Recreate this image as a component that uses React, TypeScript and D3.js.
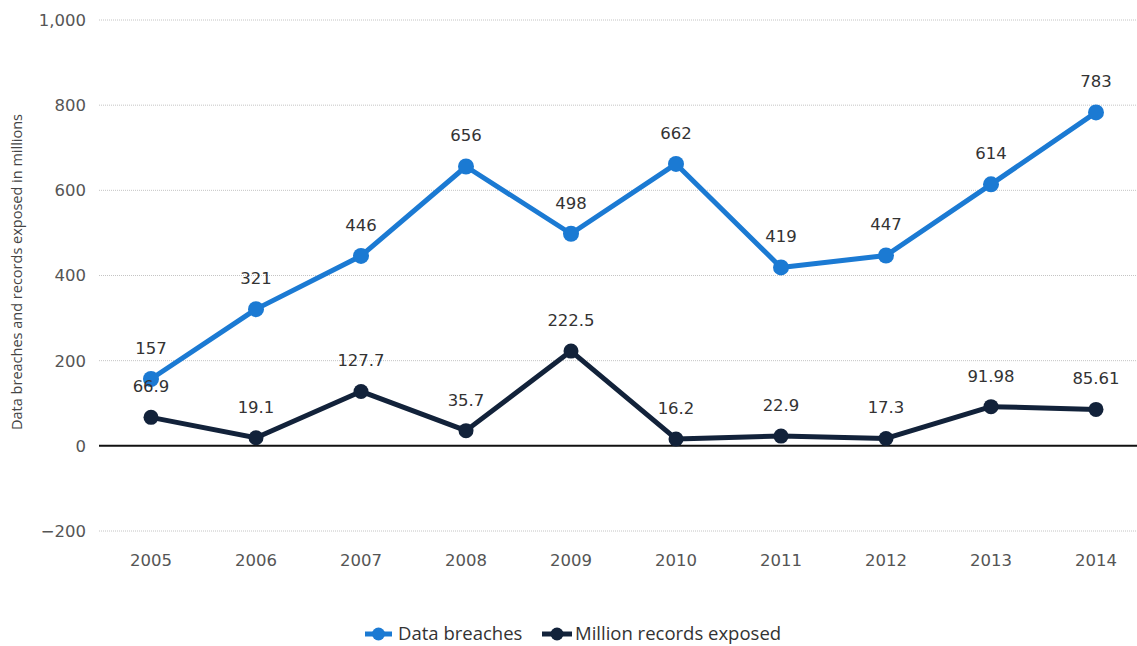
import React from "react";
import * as d3 from "d3";

const years = ["2005","2006","2007","2008","2009","2010","2011","2012","2013","2014"];
const breaches = [157, 321, 446, 656, 498, 662, 419, 447, 614, 783];
const records = [66.9, 19.1, 127.7, 35.7, 222.5, 16.2, 22.9, 17.3, 91.98, 85.61];
const recordLabels = ["66.9","19.1","127.7","35.7","222.5","16.2","22.9","17.3","91.98","85.61"];
const yTicks = [-200, 0, 200, 400, 600, 800, 1000];
const seriesNames = ["Data breaches", "Million records exposed"];
const axisTitle = "Data breaches and records exposed in millions";

const W = 1137, H = 646;
const BLUE = "#1b7ad3";
const DARK = "#12223a";
const NUMFONT = "'DejaVu Sans', sans-serif";
const TXTFONT = "'Open Sans', sans-serif";

export default function App() {
  const x = d3.scalePoint<string>().domain(years).range([151, 1096]);
  const y = d3.scaleLinear().domain([-200, 1000]).range([531, 20]);
  const line = d3.line<number>().x((_, i) => x(years[i])!).y(d => y(d));
  const fmt = d3.format(",");
  return (
    <svg width={W} height={H} style={{ position: "absolute", left: 0, top: 0, background: "#fff" }}>
      {yTicks.map(t => (
        <g key={t}>
          {t !== 0 && (
            <line x1={99} x2={W} y1={y(t)} y2={y(t)} stroke="#c4c4c4" strokeWidth={1} strokeDasharray="1,1" />
          )}
          <text x={86} y={y(t)} dy="0.36em" textAnchor="end" fontSize={16.5} fontFamily={NUMFONT} fill="#555">{fmt(t).replace("-", "−")}</text>
        </g>
      ))}
      <line x1={99} x2={W} y1={y(0)} y2={y(0)} stroke="#111" strokeWidth={2} />
      <text transform={`translate(22,272) rotate(-90)`} textAnchor="middle" fontSize={14.5} fontFamily={TXTFONT} fill="#444">
        {axisTitle}
      </text>
      {years.map(yr => (
        <text key={yr} x={x(yr)} y={566} textAnchor="middle" fontSize={16.5} fontFamily={NUMFONT} fill="#555">{yr}</text>
      ))}
      <path d={line(records)!} fill="none" stroke={DARK} strokeWidth={5} strokeLinejoin="round" />
      <path d={line(breaches)!} fill="none" stroke={BLUE} strokeWidth={5} strokeLinejoin="round" />
      {records.map((v, i) => (
        <circle key={"r" + i} cx={x(years[i])} cy={y(v)} r={7.5} fill={DARK} />
      ))}
      {breaches.map((v, i) => (
        <circle key={"b" + i} cx={x(years[i])} cy={y(v)} r={8} fill={BLUE} />
      ))}
      {breaches.map((v, i) => (
        <text key={"bl" + i} x={x(years[i])} y={y(v) - 25} textAnchor="middle" fontSize={16.5} fontFamily={NUMFONT} fill="#333">{v}</text>
      ))}
      {records.map((v, i) => (
        <text key={"rl" + i} x={x(years[i])} y={y(v) - 25} textAnchor="middle" fontSize={16.5} fontFamily={NUMFONT} fill="#333">{recordLabels[i]}</text>
      ))}
      <g transform="translate(365,634)" fontFamily={TXTFONT}>
        <line x1={0} x2={27} y1={0} y2={0} stroke={BLUE} strokeWidth={5} />
        <circle cx={13.5} cy={0} r={6.5} fill={BLUE} />
        <text x={33} y={6} fontSize={18.5} fill="#333">{seriesNames[0]}</text>
        <line x1={177} x2={207} y1={0} y2={0} stroke={DARK} strokeWidth={5} />
        <circle cx={192} cy={0} r={6.5} fill={DARK} />
        <text x={210} y={6} fontSize={18.5} fill="#333">{seriesNames[1]}</text>
      </g>
    </svg>
  );
}
